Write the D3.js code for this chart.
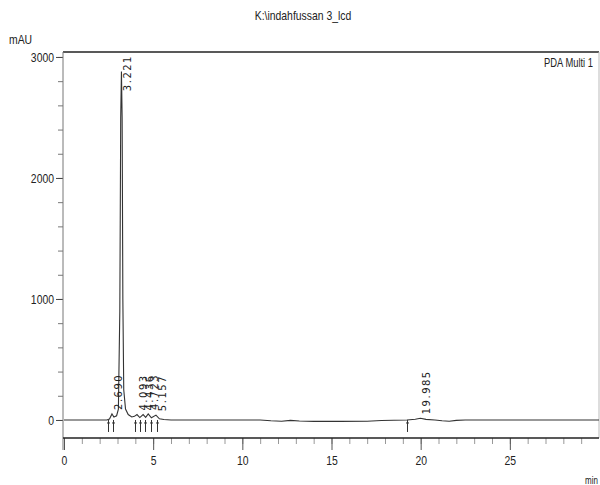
<!DOCTYPE html>
<html>
<head>
<meta charset="utf-8">
<script src="https://cdn.jsdelivr.net/npm/d3@7"></script>
<style>
  body { margin: 0; background: #fff; }
  svg text { font-family: "Liberation Sans", Arial, sans-serif; fill: #222; }
</style>
</head>
<body>
<svg id="chart" width="600" height="485"></svg>
<script>
// Chromatogram trace (time in min, signal in mAU)
var traceTime = [0, 2.40, 2.55, 2.69, 2.80, 2.95, 3.05, 3.13, 3.18, 3.221, 3.26, 3.30, 3.35, 3.45, 3.60,
  3.80, 3.95, 4.093, 4.25, 4.436, 4.58, 4.723, 4.90, 5.157, 5.35, 5.6, 6.0, 11.0, 11.6, 12.2, 12.7,
  13.2, 14.0, 15.5, 17.0, 17.8, 18.5, 19.23, 19.7, 19.985, 20.3, 20.8, 21.2, 21.6, 22.0, 22.5, 30]
var traceMAU = [0, 0, 8, 50, 25, 35, 90, 900, 2500, 2880, 2500, 1000, 250, 90, 45,
  25, 30, 45, 20, 45, 22, 50, 18, 40, 10, 4, 0, 0, -6, -10, -3,
  -8, -12, -12, -10, -4, -2, 0, 6, 14, 5, 0, -6, -10, -3, 0, 0]

// Peak retention times and their labels
var peakTimes = [2.690, 3.221, 4.093, 4.436, 4.723, 5.157, 19.985]
var peakLabels = ["2.690", "3.221", "4.093", "4.436", "4.723", "5.157", "19.985"]

// Integration start/end markers under the baseline
var markerTimes = [2.47, 2.76, 3.98, 4.26, 4.55, 4.88, 5.21, 19.23]

// Axis ticks
var xMajorTicks = [0, 5, 10, 15, 20, 25]
var xMinorTicks = d3.range(0, 30, 1)
var yMajorTicks = [0, 1000, 2000, 3000]
var yMinorTicks = d3.range(0, 3001, 200)

// squeeze text horizontally, the original uses a narrow font
function condense(sel, f) {
  sel.each(function () {
    var w = this.getComputedTextLength()
    d3.select(this).attr("textLength", w * f).attr("lengthAdjust", "spacingAndGlyphs")
  })
}

var svg = d3.select("#chart")

var pLeft = 63, pRight = 599, pTop = 52, pBottom = 438

var xscale = d3.scaleLinear().domain([0, 30]).range([64, pRight])
var yscale = d3.scaleLinear().domain([-149, 3041]).range([pBottom, pTop])

// Title and labels
svg.append("text")
  .attr("x", 303).attr("y", 20)
  .attr("text-anchor", "middle")
  .style("font-size", "13px")
  .text("K:\\indahfussan 3_lcd")
  .call(condense, 0.8)

svg.append("text")
  .attr("x", 9).attr("y", 44)
  .style("font-size", "13px")
  .text("mAU")
  .call(condense, 0.8)

svg.append("text")
  .attr("x", 593).attr("y", 67)
  .attr("text-anchor", "end")
  .style("font-size", "12px")
  .text("PDA Multi 1")
  .call(condense, 0.78)

svg.append("text")
  .attr("x", 585).attr("y", 484)
  .style("font-size", "10px")
  .text("min")
  .call(condense, 0.8)

// Frame: top and right borders
svg.append("line")
  .attr("x1", pLeft).attr("x2", pRight).attr("y1", pTop).attr("y2", pTop)
  .attr("stroke", "#222").attr("stroke-width", 1.5)
svg.append("line")
  .attr("x1", pRight).attr("x2", pRight).attr("y1", pTop).attr("y2", pBottom)
  .attr("stroke", "#bbb").attr("stroke-width", 1)

// Y axis (minor ticks, then major with labels)
var yMinor = d3.axisLeft(yscale).tickValues(yMinorTicks).tickSize(5).tickFormat("")
var yMajor = d3.axisLeft(yscale).tickValues(yMajorTicks).tickSize(7).tickPadding(2).tickFormat(d3.format("d"))

var gym = svg.append("g").attr("transform", "translate(" + pLeft + ",0)").call(yMinor)
gym.select(".domain").remove()
gym.selectAll("line").attr("stroke", "#777")
var gy = svg.append("g").attr("transform", "translate(" + pLeft + ",0)").call(yMajor)
gy.select(".domain").remove()
gy.selectAll("line").attr("stroke", "#444")
gy.selectAll("text").style("font-size", "13px").attr("fill", "#222").call(condense, 0.8)

svg.append("line")
  .attr("x1", pLeft).attr("x2", pLeft).attr("y1", pTop).attr("y2", pBottom + 12)
  .attr("stroke", "#777").attr("stroke-width", 1)

// X axis
var xMinor = d3.axisBottom(xscale).tickValues(xMinorTicks).tickSize(6).tickFormat("")
var xMajor = d3.axisBottom(xscale).tickValues(xMajorTicks).tickSize(12).tickPadding(6).tickFormat(d3.format("d"))

var gxm = svg.append("g").attr("transform", "translate(0," + pBottom + ")").call(xMinor)
gxm.select(".domain").remove()
gxm.selectAll("line").attr("stroke", "#999")
var gx = svg.append("g").attr("transform", "translate(0," + pBottom + ")").call(xMajor)
gx.select(".domain").remove()
gx.selectAll("line").attr("stroke", "#555")
gx.selectAll("text").style("font-size", "13px").attr("fill", "#222").call(condense, 0.8)

svg.append("line")
  .attr("x1", pLeft).attr("x2", pRight).attr("y1", pBottom).attr("y2", pBottom)
  .attr("stroke", "#222").attr("stroke-width", 1.5)

// Chromatogram trace
var trace = traceTime.map(function (t, i) { return [t, traceMAU[i]] })

var line = d3.line()
  .x(function (d) { return xscale(d[0]) })
  .y(function (d) { return yscale(d[1]) })

svg.append("path")
  .datum(trace)
  .attr("fill", "none")
  .attr("stroke", "#333")
  .attr("stroke-width", 1.1)
  .attr("d", line)

// Integration markers
var markers = svg.append("g").attr("class", "markers")
markerTimes.forEach(function (t) {
  var x = Math.round(xscale(t)) + 0.5
  markers.append("line")
    .attr("x1", x).attr("x2", x).attr("y1", yscale(0)).attr("y2", yscale(0) + 12)
    .attr("stroke", "#333")
  markers.append("line")
    .attr("x1", x - 1.5).attr("x2", x + 1.5).attr("y1", yscale(0) + 3).attr("y2", yscale(0) + 3)
    .attr("stroke", "#333")
})

// Peak labels, rotated, reading bottom to top
var labels = svg.append("g").attr("class", "peak-labels")
peakTimes.forEach(function (t, i) {
  var h = traceMAU[traceTime.indexOf(t)]
  var lbl = labels.append("text")
    .style("font-family", "'DejaVu Sans', sans-serif")
    .style("font-size", "10px")
    .style("letter-spacing", "1.5px")
    .attr("fill", "#333")
    .text(peakLabels[i])
  var len = lbl.node().getComputedTextLength()
  var start = Math.max(yscale(h) - 4, pTop + 3 + len)
  var x = xscale(t) + 10
  lbl.attr("transform", "translate(" + x + "," + start + ") rotate(-90)")
})
</script>
</body>
</html>
